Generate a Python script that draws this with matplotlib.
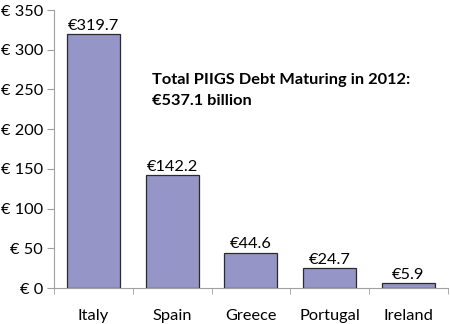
import matplotlib.pyplot as plt

countries = ['Italy', 'Spain', 'Greece', 'Portugal', 'Ireland']
debt = [319.7, 142.2, 44.6, 24.7, 5.9]
yticks = [0, 50, 100, 150, 200, 250, 300, 350]

plt.rcParams['font.family'] = ['Lato', 'DejaVu Sans']

fig = plt.figure(figsize=(4.5, 3.24), dpi=100)
ax = fig.add_axes([0.12, 0.111, 0.875, 0.858])

x = list(range(len(countries)))
ax.bar(x, debt, width=0.67, color='#9595c8', edgecolor='#2b2b2b', linewidth=0.9)

for xi, v in zip(x, debt):
    ax.text(xi, v + 2, '€%.1f' % v, ha='center', va='bottom', fontsize=11.8)

ax.text(0.75, 249, 'Total PIIGS Debt Maturing in 2012:\n€537.1 billion',
        fontsize=11.8, fontweight='bold', va='center', ha='left', linespacing=1.6)

ax.set_xlim(-0.5, 4.5)
ax.set_ylim(0, 350)
ax.set_yticks(yticks)
ax.set_yticklabels(['€ %d' % t for t in yticks], fontsize=11.8)

# category labels centred under bars, tick marks between them
ax.set_xticks(x)
ax.set_xticklabels(countries, fontsize=11.8)
ax.tick_params(axis='x', length=0, pad=15)
ax.set_xticks([i + 0.5 for i in range(-1, len(countries))], minor=True)
ax.tick_params(axis='x', which='minor', length=4, color='#a0a0a0', direction='out')
ax.tick_params(axis='y', length=5, color='#a0a0a0', direction='out', pad=3)

for s in ['top', 'right']:
    ax.spines[s].set_visible(False)
for s in ['left', 'bottom']:
    ax.spines[s].set_color('#a0a0a0')
    ax.spines[s].set_linewidth(0.8)

plt.savefig('out.png', dpi=100)
